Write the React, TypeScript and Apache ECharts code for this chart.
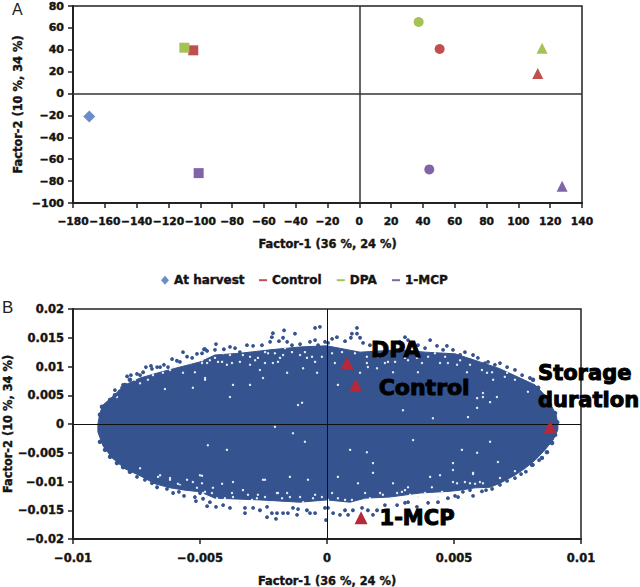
import React, { useEffect, useRef } from "react";
import * as echarts from "echarts";

// ---------- Panel A (scores) ----------
const shapes = ["rect", "circle", "triangle"];
const atHarvest = [[-169.8, -21]];
const controlScores = [[-104.4, 39.5], [50.5, 40.7], [112.2, 18.4]];
const dpaScores = [[-110, 41.9], [37.3, 65.4], [114.9, 41.3]];
const mcpScores = [[-101, -72.7], [44, -69.3], [127.5, -84.6]];

// ---------- Panel B (loadings), every pair, in thousandths ----------
const loadingLabels = ["DPA", "Control", "Storage\nduration", "1-MCP"];
const loadingMarks = [[0.00079, 0.0106], [0.00113, 0.0068], [0.00878, -0.0005], [0.00134, -0.0163]];

const cloudOutline = [
  [-9.02, 0], [-8.94, 1.9], [-8.82, 3.3], [-8.46, 4.7], [-7.95, 6.8], [-7.36, 8], [-6.57, 9], [-5.79, 9.9], [-5, 10.8],
  [-4.41, 12], [-3.43, 12.3], [-2.24, 12.9], [-1.06, 13.4], [0, 13.6], [1.3, 12.5], [2.87, 12.9], [3.86, 12.5], [5.04, 12.2],
  [6.02, 10.8], [6.81, 9.6], [7.6, 8], [8.19, 6.8], [8.58, 5], [8.82, 3.3], [9.02, 1.6], [9.09, 0],
  [9.09, -1], [8.9, -2.8], [8.58, -4.5], [8.19, -6.3], [7.8, -7.7], [7.4, -8.9], [6.81, -10.3], [6.42, -11], [5.83, -11.1],
  [5.24, -11.5], [4.84, -11.7], [3.66, -12], [2.48, -12.7], [1.5, -12.9], [0.91, -13.6], [0, -13.2], [-1.06, -13.6], [-2.64, -13.2],
  [-4.41, -12.9], [-5, -11.8], [-5.59, -11.5], [-6.18, -11.1], [-6.77, -10.4], [-7.36, -9], [-7.95, -7.8], [-8.46, -5.9], [-8.82, -3.8], [-9.02, -1.4],
];

const cloudUpperDots = [
  [-8.35, 5.9], [-8.03, 6.8], [-8.07, 6.3], [-7.87, 8.3], [-7.72, 8.5], [-7.48, 8.7], [-7.36, 8.5], [-7.24, 9], [-7.13, 9.9], [-6.93, 10.1],
  [-6.89, 9.6], [-6.69, 9.9], [-6.57, 9.9], [-6.42, 10.3], [-6.26, 9.9], [-6.1, 11.3], [-5.91, 11], [-5.79, 10.8], [-5.67, 12.5], [-5.51, 11.7],
  [-5.31, 11.5], [-5.12, 12.2], [-4.92, 12.3], [-4.84, 13], [-4.72, 12.7], [-4.8, 13], [-4.37, 13.9], [-4.41, 12.9], [-4.06, 13], [-3.82, 13.4],
  [-3.62, 13.2], [-3.43, 12.5], [-3.15, 13.7], [-2.91, 13.6], [-2.56, 13.7], [-2.24, 14.3], [-2.13, 15.8], [-2.17, 15.1], [-1.89, 14.4], [-1.69, 16.3],
  [-1.73, 15], [-1.57, 14.3], [-1.26, 15.7], [-1.38, 13.7], [-1.06, 13.9], [-0.67, 14.3], [-0.47, 16.7], [-0.28, 16.9], [-0.47, 14.6], [-0.35, 13.7],
  [-0.08, 14.3], [1.18, 16.7], [0.98, 15.7], [1.18, 15.7], [1.3, 15], [0.39, 15.1], [0.2, 14.8], [0.71, 14.4], [0.94, 15], [1.42, 14.1],
  [3.07, 15.1], [3.19, 14.6], [2.87, 14.3], [4.06, 14.6], [3.58, 13.7], [4.33, 13.6], [4.72, 13.6], [4.96, 12.9], [3.86, 13.2], [4.57, 12.9],
  [1.69, 13.7], [0.04, 14.1], [5.24, 12], [5.43, 12.5], [5.75, 12], [5.94, 11.5], [6.34, 10.8], [6.81, 10.6], [6.61, 10.3], [7.09, 9.9],
  [7.4, 9.4], [7.68, 8.5], [7.99, 8], [6.22, 10.6], [5.63, 11.1],
];

const cloudLowerDots = [
  [-7.48, -9.2], [-7.17, -9.7], [-6.89, -10.3], [-6.69, -11], [-6.3, -11.3], [-6.06, -12], [-5.83, -11.8], [-5.63, -12.5], [-5.39, -11.1], [-5.2, -12.7],
  [-5.16, -13.4], [-4.88, -13], [-4.72, -14.3], [-5, -12], [-5.79, -11], [-4.37, -14.4], [-4.61, -13.6], [-4.09, -14.1], [-3.82, -14.6], [-3.23, -15.5],
  [-3.23, -14.6], [-2.91, -14.6], [-2.64, -15], [-2.36, -14.4], [-2.36, -16.2], [-2.17, -15.5], [-2.01, -16.5], [-1.97, -15.5], [-1.73, -15.5], [-1.54, -15.5],
  [-1.34, -14.6], [-1.18, -15.8], [-1.14, -14.8], [-0.79, -15], [-0.47, -15.5], [-0.67, -15.5], [-0.04, -16.7], [-0.08, -14.6], [0.04, -14.6], [0.24, -15.5],
  [0.51, -15.8], [0.83, -15.8], [1.02, -15], [0.71, -15], [1.61, -15], [1.81, -15.8], [1.97, -15], [2.28, -14.1], [2.76, -14.1], [3.07, -13.7],
  [3.54, -14.4], [3.98, -13.7], [4.37, -13.6], [4.76, -12.9], [3.19, -13.6], [1.38, -14.6], [5.04, -12.5], [5.16, -12.7], [5.35, -11.8], [5.75, -12.5],
  [5.63, -11.5], [6.1, -11.7], [6.26, -11.5], [6.5, -11.3], [6.81, -10.6], [7.09, -9.9], [7.4, -9.4], [7.64, -8.7], [7.83, -8.3], [8.11, -7.1], [8.35, -6.3],
];

const cloudSideDots = [
  [-8.94, 1.6], [-8.86, 3], [-8.66, 3.1], [-8.54, 4.2], [-8.35, 5], [-8.15, 5.6], [-7.95, 6.8], [-7.76, 7.7],
  [-8.94, -3.1], [-8.74, -4.5], [-8.54, -5.7], [-8.27, -6.8], [-8.03, -7.5], [-7.76, -8.3],
  [8.11, 7.7], [8.31, 6.3], [8.58, 4.7], [8.78, 3.3], [8.98, 1.9], [9.06, 0.3],
  [8.98, -1.9], [8.86, -3.3], [8.66, -4.9], [8.46, -5.9], [8.07, -7.1],
];

const cloudGaps = [
  [-8.27, 4.7], [-7.36, 7.1], [-7.05, 7.7], [-6.46, 8.9], [-6.06, 9.9], [-5.67, 8.9], [-5.2, 9], [-6.38, 6.1], [-4.72, 10.6], [-5.28, 6.3],
  [-4.13, 10.8], [-3.74, 10.6], [-3.03, 10.3], [-2.72, 11.5], [-2.32, 12.3], [-1.65, 13.2], [-1.85, 11.5], [-2.44, 10.6], [-2.13, 10.6], [-0.94, 9.7],
  [-3.03, 6.8], [-1.57, 8.9], [-3.7, 6.8], [-4.8, 7.7], [-0.39, 8.9], [-2.64, 9.4], [-0.79, 11.5], [-0.2, 11.7], [-4.61, 11.1], [-2.52, 8],
  [1.57, 10.6], [2.28, 10.6], [2.6, 9], [1.97, 9.7], [3.19, 11.1], [3.74, 10.6], [4.45, 10.6], [0.31, 10.6], [1.3, 8.9], [3.58, 9],
  [0.43, 6.8], [2.68, 10.8], [3.98, 11.7], [5.51, 9], [6.3, 8.9], [6.54, 7.7], [7.09, 8.9], [6.69, 4.7], [5.91, 4.5], [5.91, 2.8],
  [6.42, 3.8], [5.12, 10.3], [7.91, 5.6], [5.55, 1.2], [6.14, 5.4], [-1.14, 3.3], [-0.98, 3.7], [-1.34, -1.6], [-0.87, -3.1], [-2.05, -0.5],
  [-3.94, -4.5], [-4.8, 8], [-1.46, -9.2], [-5, -8.9], [-2.44, -9.7], [-3.82, 4.7], [4.17, 1], [2.99, 2.4], [1.57, -4.9], [5.75, -8.5],
  [2.6, -10.3], [1.81, -6.8], [6.42, -3.1], [6.14, 4.7], [0.91, -4.5], [3.39, -2.8], [4.96, -6.8], [4.06, -9.2], [-4.13, -10.4], [-3.7, -10.1],
  [-2.52, -9.7], [-0.75, -9.7], [-1.93, -12], [-2.72, -12.3], [-3.7, -12.7], [-4.88, -12], [-4.53, -12], [-3.31, -11.5], [-2.24, -13.6], [-1.06, -12.7],
  [-0.47, -12.3], [-1.57, -12], [-2.95, -13.2], [-0.28, -13.7], [0.43, -9.2], [1.22, -10.3], [3.19, -11], [4.13, -11], [4.45, -8.9], [1.81, -8.5],
  [0.71, -13.2], [1.5, -13.2], [2.95, -11.8], [2.2, -12.3], [3.58, -12.7], [0.2, -12], [2.56, -12.9], [4.37, -12.7], [5.75, -8.7], [4.96, -8],
  [5.31, -4.5], [6.73, -6.6], [5.91, -5], [6.02, -10.1], [5.12, -10.3], [7.4, -8.2], [5.63, -10.3], [6.81, -9.4], [-6.18, -9.4], [-6.65, -9.2],
  [-4.92, -9], [-5.87, -10.4], [-5.51, -9.7], [-7.36, -7.7], [-4.69, -3.7],
  [-4.29, 10.8], [-3.94, 10.3], [-3.43, 10.8], [-2.83, 11.1], [-1.93, 10.8], [-1.73, 12], [-1.06, 12], [-0.59, 11.7], [-0.47, 10.8], [-3.82, 12],
  [-3.31, 12], [-3.03, 11.7], [-2.44, 12.5], [-2.05, 12.3], [-1.38, 12.5], [-0.87, 12.5], [-4.72, 11.7], [-4.41, 11.5], [-4.09, 12.3], [-4.92, 10.6],
  [0.2, 12.3], [0.59, 12.5], [1.1, 12.3], [1.57, 11.7], [2, 11.7], [2.4, 10.8], [3.07, 11.5], [3.54, 11.5], [4.25, 12.3], [4.65, 11.7],
  [4.76, 10.6], [1.61, 9.9], [5.24, 11.1], [5.63, 10.3], [6.1, 9.4], [6.5, 9], [7, 8.2], [7.4, 7.7], [-7.56, 7.7], [-6.85, 8.5],
  [-6.18, 9.4], [-5.87, 10.3], [-5.39, 10.6], [-4.92, 11.1],
  [-4.72, -12.7], [-4.33, -12.9], [-4.02, -12.9], [-3.43, -13.6], [-2.76, -12.9], [-2.32, -13.7], [-1.97, -12], [-1.77, -12.9], [-0.94, -13.6], [-0.55, -12.9],
  [-0.2, -12.7], [-4.49, -11.1], [-3.74, -12], [-3.11, -12.3], [-2.44, -12.7], [-1.46, -12.7], [0.04, -13.2], [0.43, -12.9], [0.98, -13.2], [1.69, -12.9],
  [2.09, -12], [2.76, -12], [3.27, -12.3], [3.86, -12], [4.53, -11.8], [3.07, -11.5], [1.5, -12], [4.96, -10.1], [5.43, -10.1], [5.83, -10.4],
  [6.14, -10.3], [-6.57, -8.9], [-6.18, -9.7], [-5.79, -10.6], [-5.28, -10.1], [-4.92, -10.3], [-5.12, -11.1], [-4.8, -11.8],
];

const THOUSANDTH = 0.001;
const inUnits = (pts: number[][]) => pts.map(([x, y]) => [x * THOUSANDTH, y * THOUSANDTH]);

const FONT = "DejaVu Sans";
const INK = "#141414";
const CLOUD = "#35538e";
const MARK_RED = "#b5293a";
const LEGEND_NAMES = ["Control", "DPA", "1-MCP"];

const minus = (v: number) => String(v).replace("-", "\u2212");
const text = (size: number, heavy = 0.4) => ({
  fontFamily: FONT,
  fontWeight: "bold" as const,
  fontSize: size,
  color: INK,
  textBorderColor: INK,
  textBorderWidth: heavy,
});

function axis(gridIndex: number, min: number, max: number, interval: number, name: string, nameGap: number, size: number, margin: number, vertical: boolean) {
  return {
    type: "value",
    gridIndex,
    min,
    max,
    interval,
    name,
    nameLocation: "middle",
    nameGap,
    nameMoveOverlap: false,
    nameRotate: vertical ? 90 : 0,
    nameTextStyle: text(11.4),
    axisLine: { show: true, onZero: false, lineStyle: { color: "#222", width: 2 } },
    axisTick: { show: true, length: 5, lineStyle: { color: "#222", width: 1.5 } },
    axisLabel: { ...text(size), margin, formatter: minus, showMinLabel: true, showMaxLabel: true, hideOverlap: false },
    splitLine: { show: false },
  };
}

function zeroLines(width: number, color: string) {
  return {
    silent: true,
    symbol: "none",
    label: { show: false },
    lineStyle: { color, width, type: "solid" },
    data: [{ xAxis: 0 }, { yAxis: 0 }],
  };
}

function scoreSeries(name: string, color: string, points: number[][]) {
  return {
    type: "scatter",
    name,
    xAxisIndex: 0,
    yAxisIndex: 0,
    symbolSize: 11,
    itemStyle: { color, opacity: 1 },
    data: points.map((value, i) => ({ value, symbol: shapes[i], symbolSize: i === 2 ? 11 : 10 })),
  };
}

const labelPlacement = [
  { size: 22, distance: 17.5, offset: [0, -14] },
  { size: 22, distance: 16.5, offset: [0, 3] },
  { size: 21, distance: 0, offset: [-18.5, -40] },
  { size: 21, distance: 12, offset: [0, 0] },
];

export default function App() {
  const ref = useRef<HTMLDivElement>(null);

  useEffect(() => {
    const chart = echarts.init(ref.current!, null, { renderer: "svg" });
    const outline = inUnits(cloudOutline);
    chart.setOption({
      animation: false,
      backgroundColor: "#ffffff",
      grid: [
        { left: 73, top: 6, width: 509, height: 197, show: true, borderColor: "#222", borderWidth: 1.5, outerBoundsMode: "none" },
        { left: 73, top: 309, width: 508, height: 230, show: true, borderColor: "#222", borderWidth: 1.5, outerBoundsMode: "none" },
      ],
      xAxis: [
        axis(0, -180, 140, 20, "Factor-1 (36 %, 24 %)", 35, 10.7, 13, false),
        axis(1, -0.01, 0.01, 0.005, "Factor-1 (36 %, 24 %)", 36, 11.5, 13, false),
      ],
      yAxis: [
        axis(0, -100, 80, 20, "Factor-2 (10 %, 34 %)", 50, 11, 9, true),
        axis(1, -0.02, 0.02, 0.005, "Factor-2 (10 %, 34 %)", 60, 11.5, 9, true),
      ],
      legend: [
        {
          left: 161, top: 274, padding: 0, itemWidth: 8, itemHeight: 9, itemGap: 15,
          icon: "diamond", selectedMode: false, data: ["At harvest"], textStyle: text(12),
        },
        {
          left: 259, top: 274, padding: 0, itemWidth: 8, itemHeight: 2, itemGap: 15,
          icon: "rect", selectedMode: false, data: LEGEND_NAMES, textStyle: text(12),
        },
      ],
      series: [
        {
          type: "scatter", name: "At harvest", xAxisIndex: 0, yAxisIndex: 0, symbol: "diamond", symbolSize: 12,
          itemStyle: { color: "#6b8cc9", opacity: 1 }, data: atHarvest,
        },
        scoreSeries("Control", "#c0504d", controlScores),
        scoreSeries("DPA", "#a5c255", dpaScores),
        {
          ...scoreSeries("1-MCP", "#8064a8", mcpScores),
          markLine: zeroLines(1.5, "#333"),
        },
        {
          type: "custom", name: "Cloud", xAxisIndex: 1, yAxisIndex: 1, coordinateSystem: "cartesian2d",
          z: 1, silent: true, data: outline,
          encode: { x: 0, y: 1 },
          renderItem: (params: any, api: any) => {
            if (params.dataIndex !== 0) return null;
            return {
              type: "polygon",
              shape: { points: outline.map((p) => api.coord(p)) },
              style: { fill: CLOUD, stroke: CLOUD },
            };
          },
        },
        {
          type: "scatter", name: "Gaps", xAxisIndex: 1, yAxisIndex: 1, z: 2, silent: true, symbolSize: 2.4,
          itemStyle: { color: "#e8edf7", opacity: 1 }, data: inUnits(cloudGaps),
        },
        {
          type: "scatter", name: "Upper", xAxisIndex: 1, yAxisIndex: 1, z: 3, silent: true, symbolSize: 3.8,
          itemStyle: { color: CLOUD, opacity: 1 }, data: inUnits(cloudUpperDots),
        },
        {
          type: "scatter", name: "Sides", xAxisIndex: 1, yAxisIndex: 1, z: 3, silent: true, symbolSize: 4.5,
          itemStyle: { color: CLOUD, opacity: 1 }, data: inUnits(cloudSideDots),
        },
        {
          type: "scatter", name: "Lower", xAxisIndex: 1, yAxisIndex: 1, z: 3, silent: true, symbolSize: 3.8,
          itemStyle: { color: CLOUD, opacity: 1 }, data: inUnits(cloudLowerDots),
          markLine: zeroLines(1, "#111"),
        },
        {
          type: "scatter", name: "Loadings", xAxisIndex: 1, yAxisIndex: 1, z: 6, symbol: "triangle", symbolSize: 13,
          itemStyle: { color: MARK_RED, opacity: 1 },
          data: loadingMarks.map((value, i) => ({
            value,
            label: {
              show: true,
              position: "right",
              align: "left",
              formatter: loadingLabels[i],
              ...text(labelPlacement[i].size, 1),
              color: "#000",
              textBorderColor: "#000",
              lineHeight: 27,
              distance: labelPlacement[i].distance,
              offset: labelPlacement[i].offset,
            },
          })),
        },
      ],
      graphic: [
        { type: "text", left: 12, top: 1, style: { text: "A", fontFamily: "Liberation Sans", fontSize: 16, fill: "#222" } },
        { type: "text", left: 2, top: 299, style: { text: "B", fontFamily: "Liberation Sans", fontSize: 17, fill: "#222" } },
      ],
    });
    return () => chart.dispose();
  }, []);

  return <div ref={ref} style={{ position: "fixed", left: 0, top: 0, width: 640, height: 587 }} />;
}
